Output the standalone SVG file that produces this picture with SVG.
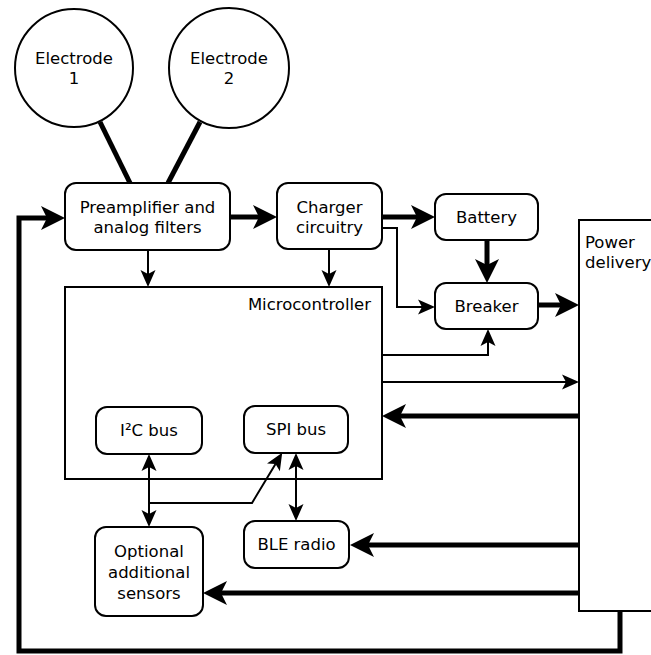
<svg xmlns="http://www.w3.org/2000/svg" width="651" height="655" viewBox="0 0 651 655">
<style>
text{font-family:"DejaVu Sans","Liberation Sans",sans-serif;font-size:16.5px;fill:#000}
.c{text-anchor:middle}
.box{fill:#fff;stroke:#000;stroke-width:2}
.frame{fill:none;stroke:#000;stroke-width:2}
.thin{fill:none;stroke:#000;stroke-width:2}
.thick{fill:none;stroke:#000;stroke-width:5}
.ta{marker-end:url(#ah)}
.tb{marker-end:url(#ahb)}
.dbl{marker-start:url(#ah);marker-end:url(#ah)}
</style>
<defs>
<marker id="ah" markerUnits="userSpaceOnUse" orient="auto-start-reverse" refX="0" refY="0" markerWidth="20" markerHeight="20" overflow="visible">
<path d="M13,0 L-4,-7.5 L0,0 L-4,7.5 Z" fill="#000"/>
</marker>
<marker id="ahb" markerUnits="userSpaceOnUse" orient="auto" refX="0" refY="0" markerWidth="30" markerHeight="30" overflow="visible">
<path d="M18,0 L-6,-12 L0,0 L-6,12 Z" fill="#000"/>
</marker>
</defs>

<g id="power">
<rect class="box" x="579" y="220" width="90" height="391"/>
<text x="585" y="248">Power</text>
<text x="585" y="268">delivery</text>
</g>

<g id="microcontroller">
<rect class="frame" x="65" y="287" width="317" height="192"/>
<text x="371" y="310" text-anchor="end">Microcontroller</text>
</g>

<g id="connectors">
<line class="thick" x1="100" y1="122" x2="130" y2="183"/>
<line class="thick" x1="200" y1="122" x2="168" y2="183"/>
<polyline class="thick tb" points="620,611 620,651 19,651 19,218 47,218"/>
<line class="thick tb" x1="230" y1="217" x2="259" y2="217"/>
<line class="thick tb" x1="382" y1="217" x2="417" y2="217"/>
<polyline class="thin ta" points="382,228 397,228 397,307 422,307"/>
<line class="thick tb" x1="487" y1="240" x2="487" y2="265"/>
<line class="thick tb" x1="538" y1="305" x2="561" y2="305"/>
<line class="thin ta" x1="148" y1="250" x2="148" y2="274"/>
<line class="thin ta" x1="329" y1="249" x2="329" y2="274"/>
<polyline class="thin ta" points="382,355 488,355 488,342"/>
<line class="thin ta" x1="382" y1="382" x2="566" y2="382"/>
<line class="thick tb" x1="579" y1="416" x2="400" y2="416"/>
<line class="thick tb" x1="579" y1="545" x2="368" y2="545"/>
<line class="thick tb" x1="579" y1="593" x2="221" y2="593"/>
<line class="thin dbl" x1="149" y1="467" x2="149" y2="514"/>
<polyline class="thin ta" points="149,503 252,503 275.5,464"/>
<line class="thin dbl" x1="296" y1="466" x2="296" y2="508"/>
</g>

<g id="electrode1">
<circle cx="74" cy="68" r="59" fill="#fff" stroke="#000" stroke-width="2"/>
<text class="c" x="74" y="64">Electrode</text>
<text class="c" x="74" y="84">1</text>
</g>
<g id="electrode2">
<circle cx="229" cy="68" r="60" fill="#fff" stroke="#000" stroke-width="2"/>
<text class="c" x="229" y="64">Electrode</text>
<text class="c" x="229" y="84">2</text>
</g>

<g id="preamp">
<rect class="box" x="65" y="183" width="165" height="67" rx="11"/>
<text class="c" x="147.5" y="213">Preamplifier and</text>
<text class="c" x="147.5" y="233">analog filters</text>
</g>
<g id="charger">
<rect class="box" x="277" y="183" width="105" height="66" rx="11"/>
<text class="c" x="329.5" y="213">Charger</text>
<text class="c" x="329.5" y="233">circuitry</text>
</g>
<g id="battery">
<rect class="box" x="435" y="194" width="103" height="46" rx="11"/>
<text class="c" x="486.5" y="223">Battery</text>
</g>
<g id="breaker">
<rect class="box" x="435" y="283" width="103" height="46" rx="11"/>
<text class="c" x="486.5" y="312">Breaker</text>
</g>

<g id="i2c">
<rect class="box" x="96" y="407" width="106" height="47" rx="11"/>
<text class="c" x="149" y="436">I²C bus</text>
</g>
<g id="spi">
<rect class="box" x="244" y="406" width="104" height="47" rx="11"/>
<text class="c" x="296" y="435">SPI bus</text>
</g>
<g id="ble">
<rect class="box" x="244" y="521" width="105" height="47" rx="11"/>
<text class="c" x="296.5" y="550">BLE radio</text>
</g>
<g id="sensors">
<rect class="box" x="95" y="527" width="108" height="89" rx="11"/>
<text class="c" x="149" y="557">Optional</text>
<text class="c" x="149" y="578">additional</text>
<text class="c" x="149" y="599">sensors</text>
</g>
</svg>
